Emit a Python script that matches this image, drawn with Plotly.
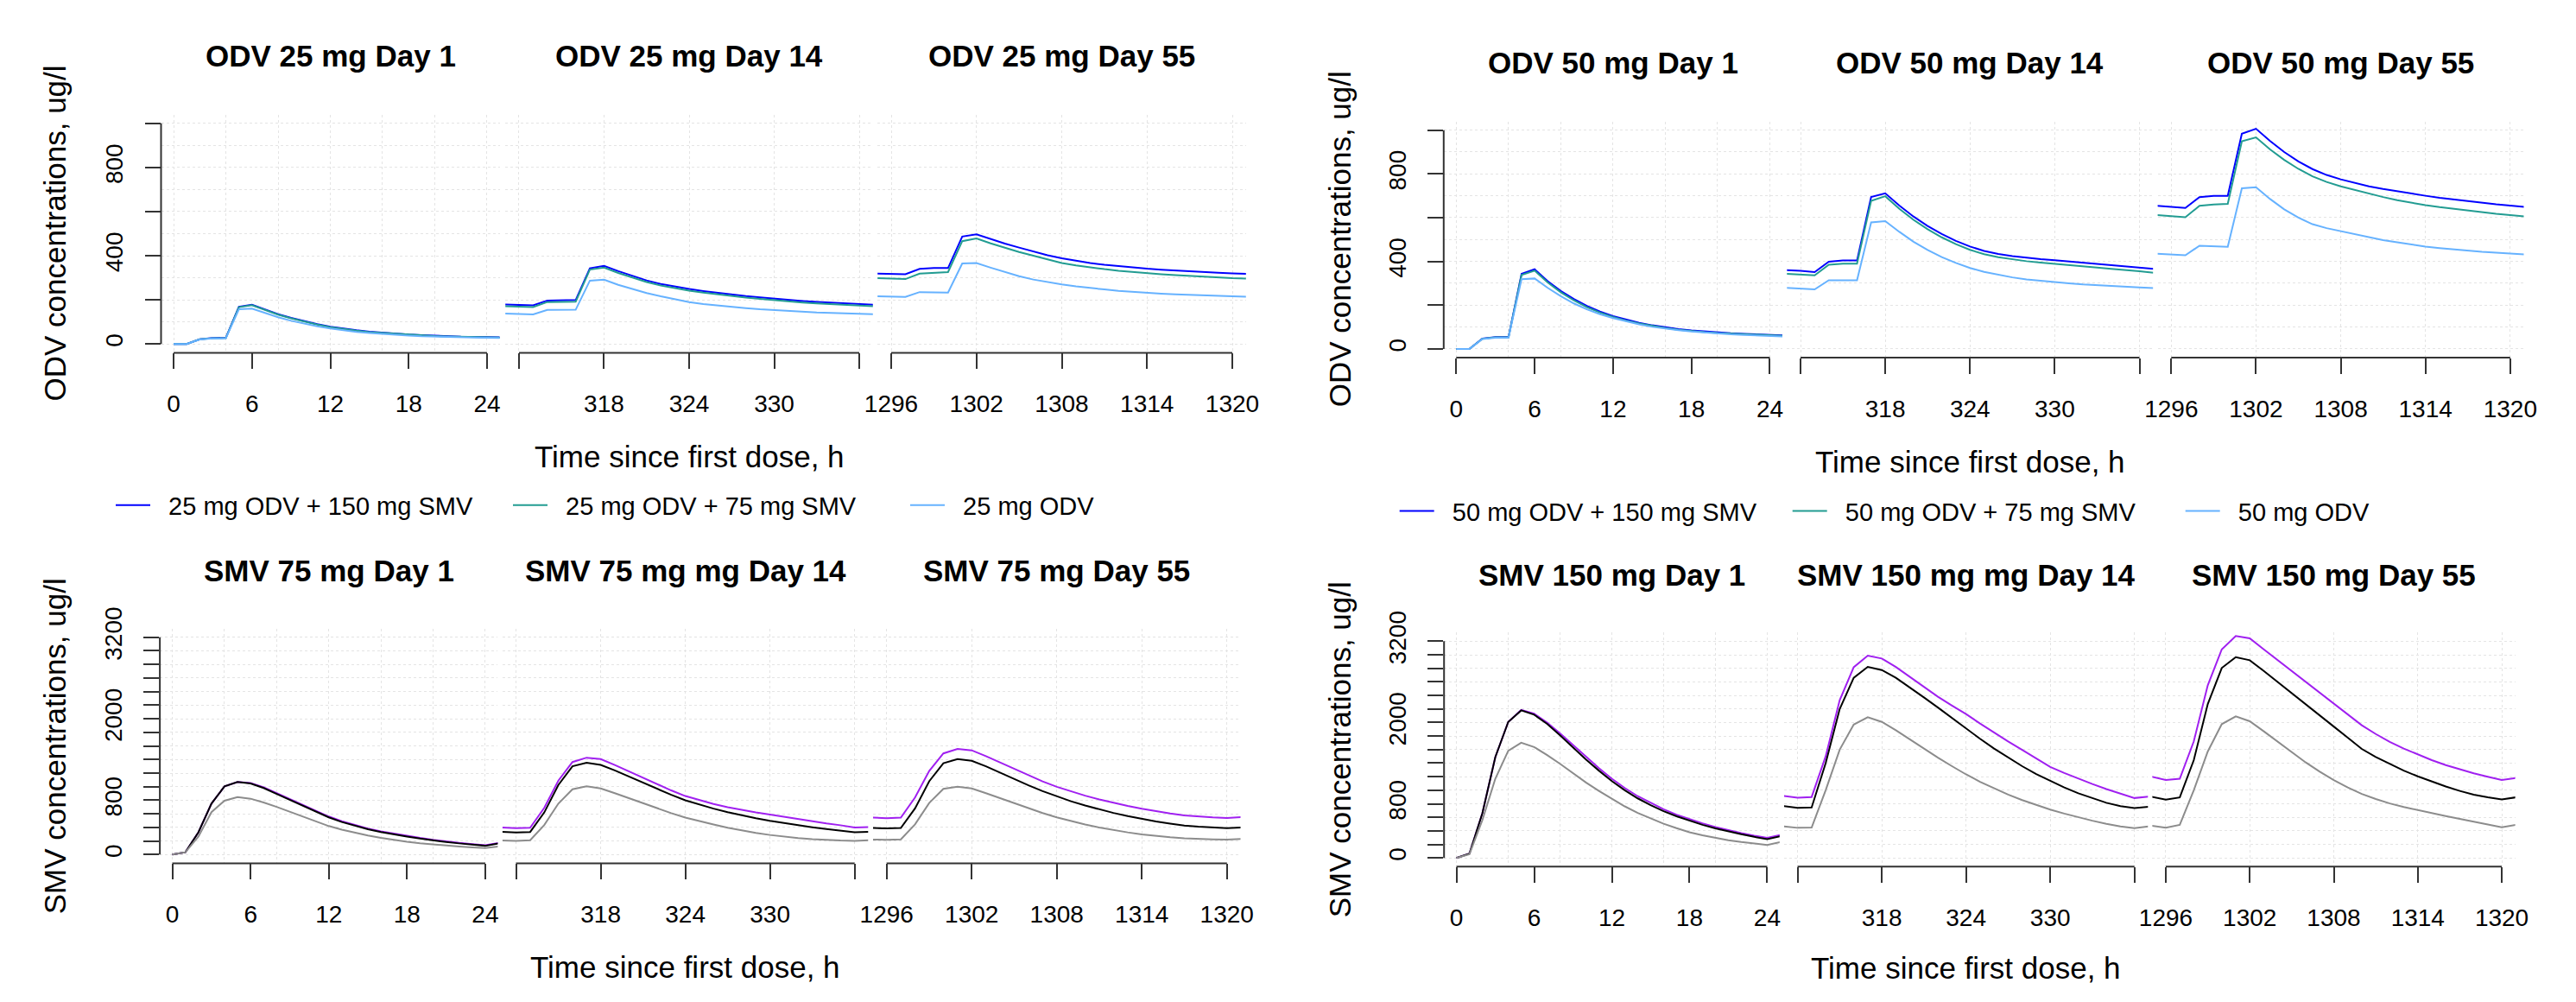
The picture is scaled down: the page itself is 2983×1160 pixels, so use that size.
import plotly.graph_objects as go

W, H = 2983, 1160
FONT = "Liberation Sans, Arial, sans-serif"

# ---------------- data ----------------
t_day1 = list(range(0, 26))
t_day14 = list(range(311, 338))
t_day55 = list(range(1295, 1322))

# ODV 25 mg (top-left)
odv25_smv150_d1 = [0, 0, 21, 27, 28, 169, 178, 155, 135, 118, 103, 90, 78, 69, 62, 56, 51, 47, 43, 40, 37, 35, 33, 32, 31, 30]
odv25_smv75_d1 = [0, 0, 21, 26, 27, 167, 176, 153, 133, 116, 101, 88, 76, 67, 60, 54, 50, 46, 42, 39, 36, 34, 32, 31, 30, 29]
odv25_alone_d1 = [0, 0, 20, 25, 26, 157, 160, 140, 121, 105, 92, 80, 70, 62, 55, 50, 45, 41, 38, 35, 33, 31, 30, 29, 28, 27]
odv25_smv150_d14 = [179, 177, 175, 197, 199, 199, 343, 354, 330, 308, 288, 272, 259, 249, 240, 232, 224, 217, 211, 205, 200, 195, 191, 187, 184, 181, 178]
odv25_smv75_d14 = [171, 169, 167, 190, 192, 192, 337, 346, 322, 300, 281, 265, 252, 242, 233, 225, 217, 210, 204, 198, 193, 188, 184, 180, 177, 174, 171]
odv25_alone_d14 = [138, 136, 134, 154, 155, 155, 287, 291, 268, 248, 231, 216, 203, 190, 181, 174, 168, 162, 157, 153, 149, 146, 143, 141, 139, 137, 135]
odv25_smv150_d55 = [319, 317, 316, 340, 344, 344, 487, 497, 475, 455, 437, 419, 402, 388, 377, 367, 359, 352, 346, 341, 337, 333, 329, 326, 323, 320, 318]
odv25_smv75_d55 = [298, 296, 294, 319, 324, 326, 466, 478, 456, 436, 417, 400, 384, 367, 356, 347, 339, 332, 326, 320, 316, 312, 308, 304, 301, 298, 296]
odv25_alone_d55 = [216, 214, 213, 235, 234, 233, 365, 367, 346, 325, 307, 292, 280, 270, 261, 253, 247, 241, 236, 231, 228, 225, 222, 220, 218, 216, 214]

# ODV 50 mg (top-right)
odv50_smv150_d1 = [0, 0, 47, 54, 54, 343, 364, 310, 265, 228, 197, 171, 150, 133, 119, 108, 99, 91, 85, 80, 76, 72, 69, 66, 64, 62]
odv50_smv75_d1 = [0, 0, 46, 53, 53, 338, 358, 304, 259, 222, 191, 166, 146, 129, 116, 105, 96, 88, 82, 77, 73, 70, 67, 64, 62, 60]
odv50_alone_d1 = [0, 0, 45, 51, 52, 319, 322, 279, 241, 208, 181, 159, 141, 125, 112, 101, 93, 86, 80, 75, 71, 67, 64, 61, 59, 57]
odv50_smv150_d14 = [360, 357, 351, 399, 404, 404, 694, 711, 655, 605, 562, 525, 494, 468, 448, 434, 424, 416, 410, 405, 399, 393, 387, 381, 376, 371, 366]
odv50_smv75_d14 = [343, 340, 336, 385, 390, 390, 677, 698, 640, 590, 547, 510, 479, 453, 433, 419, 409, 401, 395, 390, 384, 378, 372, 366, 361, 355, 348]
odv50_alone_d14 = [279, 276, 272, 314, 315, 314, 578, 584, 535, 490, 452, 420, 393, 370, 352, 338, 327, 318, 311, 305, 300, 295, 291, 287, 284, 281, 278]
odv50_smv150_d55 = [654, 650, 644, 694, 700, 700, 984, 1006, 950, 900, 857, 822, 795, 775, 758, 743, 731, 720, 710, 700, 691, 683, 675, 668, 661, 655, 649]
odv50_smv75_d55 = [612, 608, 602, 654, 660, 663, 949, 967, 912, 864, 823, 789, 763, 743, 726, 708, 694, 680, 668, 657, 648, 640, 632, 625, 618, 612, 606]
odv50_alone_d55 = [435, 432, 428, 472, 470, 467, 734, 739, 685, 638, 600, 570, 552, 538, 523, 509, 497, 487, 477, 468, 461, 455, 449, 444, 440, 436, 432]

# SMV 75 mg (bottom-left): purple / black / gray series
smv75_purple_d1 = [0, 34, 329, 751, 1005, 1070, 1055, 990, 905, 817, 730, 640, 560, 492, 433, 383, 342, 307, 276, 245, 217, 193, 172, 155, 138, 170]
smv75_black_d1 = [0, 34, 329, 751, 1005, 1068, 1047, 980, 893, 805, 716, 627, 548, 480, 422, 373, 333, 297, 266, 236, 209, 185, 165, 147, 130, 163]
smv75_gray_d1 = [0, 34, 266, 625, 794, 848, 823, 768, 703, 633, 562, 495, 420, 366, 320, 281, 247, 216, 190, 168, 149, 133, 119, 107, 98, 118]
smv75_purple_d14 = [400, 388, 395, 688, 1089, 1363, 1427, 1406, 1320, 1225, 1130, 1035, 945, 862, 800, 745, 697, 654, 620, 590, 555, 520, 487, 458, 432, 400, 405]
smv75_black_d14 = [335, 326, 333, 620, 1026, 1300, 1351, 1321, 1240, 1148, 1055, 965, 880, 800, 735, 677, 625, 578, 536, 498, 464, 432, 403, 376, 351, 329, 336]
smv75_gray_d14 = [208, 203, 211, 435, 751, 962, 1005, 975, 905, 830, 755, 680, 610, 545, 490, 442, 395, 356, 320, 289, 264, 243, 228, 216, 208, 203, 212]
smv75_purple_d55 = [545, 535, 545, 840, 1230, 1490, 1556, 1535, 1450, 1355, 1260, 1165, 1078, 998, 930, 868, 812, 762, 716, 675, 638, 605, 578, 560, 548, 538, 550]
smv75_black_d55 = [392, 385, 392, 680, 1080, 1345, 1407, 1380, 1300, 1205, 1110, 1020, 935, 855, 785, 722, 665, 613, 566, 524, 488, 456, 428, 410, 398, 390, 400]
smv75_gray_d55 = [222, 218, 225, 445, 760, 968, 1000, 975, 905, 830, 755, 682, 612, 548, 492, 442, 398, 360, 327, 298, 274, 255, 240, 230, 224, 220, 230]

# SMV 150 mg (bottom-right)
smv150_purple_d1 = [0, 64, 660, 1489, 2009, 2185, 2130, 2000, 1840, 1665, 1490, 1325, 1170, 1033, 912, 810, 718, 640, 574, 512, 458, 410, 368, 330, 298, 340]
smv150_black_d1 = [0, 64, 660, 1489, 2009, 2179, 2115, 1980, 1810, 1630, 1455, 1290, 1135, 1000, 880, 780, 690, 615, 550, 490, 438, 392, 350, 312, 279, 320]
smv150_gray_d1 = [0, 55, 560, 1170, 1583, 1702, 1638, 1520, 1390, 1250, 1115, 990, 872, 762, 665, 580, 505, 440, 380, 335, 295, 262, 235, 212, 193, 234]
smv150_purple_d14 = [915, 890, 900, 1500, 2330, 2817, 2987, 2945, 2820, 2670, 2520, 2380, 2250, 2125, 1985, 1850, 1720, 1595, 1470, 1345, 1255, 1170, 1092, 1018, 950, 885, 905]
smv150_black_d14 = [766, 740, 745, 1400, 2200, 2660, 2821, 2774, 2660, 2520, 2370, 2220, 2065, 1915, 1760, 1615, 1480, 1355, 1240, 1135, 1040, 955, 880, 815, 765, 736, 755]
smv150_gray_d14 = [468, 445, 450, 1000, 1600, 1970, 2077, 2009, 1885, 1750, 1610, 1480, 1355, 1234, 1125, 1025, 935, 855, 780, 715, 655, 600, 550, 505, 465, 440, 465]
smv150_purple_d55 = [1200, 1150, 1170, 1721, 2550, 3080, 3277, 3243, 3080, 2920, 2760, 2600, 2440, 2280, 2115, 1960, 1830, 1715, 1615, 1525, 1445, 1372, 1307, 1250, 1198, 1150, 1180]
smv150_black_d55 = [902, 860, 894, 1444, 2273, 2805, 2965, 2919, 2762, 2600, 2435, 2270, 2105, 1940, 1775, 1610, 1490, 1385, 1290, 1205, 1125, 1055, 990, 935, 895, 864, 895]
smv150_gray_d55 = [477, 447, 489, 1000, 1572, 1976, 2091, 2018, 1870, 1715, 1560, 1410, 1275, 1150, 1040, 945, 870, 805, 752, 705, 660, 618, 578, 535, 492, 452, 489]

# axis ticks / labels
x_ticks_d1 = [0, 6, 12, 18, 24]
x_labels_d1 = ["0", "6", "12", "18", "24"]
x_ticks_d14 = [312, 318, 324, 330, 336]
x_labels_d14 = ["", "318", "324", "330", ""]
x_ticks_d55 = [1296, 1302, 1308, 1314, 1320]
x_labels_d55 = ["1296", "1302", "1308", "1314", "1320"]
y_ticks_odv = [0, 200, 400, 600, 800, 1000]
y_labels_odv = ["0", "", "400", "", "800", ""]
y_ticks_smv = list(range(0, 3400, 200))
y_labels_smv = ["0", "", "", "", "800", "", "", "", "", "", "2000", "", "", "", "", "", "3200"]

legend_left = ["25 mg ODV + 150 mg SMV", "25 mg ODV + 75 mg SMV", "25 mg ODV"]
legend_right = ["50 mg ODV + 150 mg SMV", "50 mg ODV + 75 mg SMV", "50 mg ODV"]

# ---------------- styling / geometry ----------------
C_BLUE, C_TEAL, C_LIGHT = "#0000FF", "#229C92", "#66B2FF"
C_PURPLE, C_BLACK, C_GRAY = "#A020F0", "#000000", "#8C8C8C"
AXC = "#333333"
GRIDC = "#E4E4E4"
NBSP = "\u00a0\u00a0"

X_TL = [(186.5, 578.5), (585.2, 1010.8), (1016.2, 1442.8)]
X_TR = [(1671.8, 2064.0), (2069.3, 2493.2), (2498.6, 2922.5)]
X_BL = [(185.1, 576.4), (581.9, 1005.3), (1011.0, 1436.5)]
X_BR = [(1672.2, 2060.8), (2066.0, 2487.3), (2492.4, 2912.6)]
Y_TL, Y_TR, Y_BL, Y_BR = (132.6, 408.4), (140.5, 414.1), (727.7, 999.4), (732.3, 1003.3)

XRANGES = [(-0.96, 24.96), (311.04, 336.96), (1295.04, 1320.96)]
XTICKS = [(x_ticks_d1, x_labels_d1), (x_ticks_d14, x_labels_d14), (x_ticks_d55, x_labels_d55)]
XGRID = [list(range(0, 25, 4)), x_ticks_d14, x_ticks_d55]
TIMES = [t_day1, t_day14, t_day55]


def dom_x(a):
    return [a[0] / W, a[1] / W]


def dom_y(a):
    return [1 - a[1] / H, 1 - a[0] / H]


blocks = [
    dict(xs=X_TL, yd=Y_TL, titles=["ODV 25 mg Day 1", "ODV 25 mg Day 14", "ODV 25 mg Day 55"], kind="odv",
         data=[[odv25_smv150_d1, odv25_smv75_d1, odv25_alone_d1],
               [odv25_smv150_d14, odv25_smv75_d14, odv25_alone_d14],
               [odv25_smv150_d55, odv25_smv75_d55, odv25_alone_d55]],
         names=legend_left, colors=[C_BLUE, C_TEAL, C_LIGHT], legend="legend",
         ylab="ODV concentrations, ug/l", title_y=64.5, xlab_y=528.6, ylab_x=63.0),
    dict(xs=X_TR, yd=Y_TR, titles=["ODV 50 mg Day 1", "ODV 50 mg Day 14", "ODV 50 mg Day 55"], kind="odv",
         data=[[odv50_smv150_d1, odv50_smv75_d1, odv50_alone_d1],
               [odv50_smv150_d14, odv50_smv75_d14, odv50_alone_d14],
               [odv50_smv150_d55, odv50_smv75_d55, odv50_alone_d55]],
         names=legend_right, colors=[C_BLUE, C_TEAL, C_LIGHT], legend="legend2",
         ylab="ODV concentrations, ug/l", title_y=72.0, xlab_y=534.8, ylab_x=1551.0),
    dict(xs=X_BL, yd=Y_BL, titles=["SMV 75 mg Day 1", "SMV 75 mg mg Day 14", "SMV 75 mg Day 55"], kind="smv",
         data=[[smv75_purple_d1, smv75_black_d1, smv75_gray_d1],
               [smv75_purple_d14, smv75_black_d14, smv75_gray_d14],
               [smv75_purple_d55, smv75_black_d55, smv75_gray_d55]],
         names=["SMV 75 mg (purple)", "SMV 75 mg (black)", "SMV 75 mg (gray)"],
         colors=[C_PURPLE, C_BLACK, C_GRAY], legend=None,
         ylab="SMV concentrations, ug/l", title_y=660.8, xlab_y=1119.3, ylab_x=63.8),
    dict(xs=X_BR, yd=Y_BR, titles=["SMV 150 mg Day 1", "SMV 150 mg mg Day 14", "SMV 150 mg Day 55"], kind="smv",
         data=[[smv150_purple_d1, smv150_black_d1, smv150_gray_d1],
               [smv150_purple_d14, smv150_black_d14, smv150_gray_d14],
               [smv150_purple_d55, smv150_black_d55, smv150_gray_d55]],
         names=["SMV 150 mg (purple)", "SMV 150 mg (black)", "SMV 150 mg (gray)"],
         colors=[C_PURPLE, C_BLACK, C_GRAY], legend=None,
         ylab="SMV concentrations, ug/l", title_y=665.7, xlab_y=1120.9, ylab_x=1551.5),
]

fig = go.Figure()
layout = {}
shapes = []
annotations = []
k = 0
for b in blocks:
    if b["kind"] == "odv":
        yr, yt, yl, yg = (-40, 1040), y_ticks_odv, y_labels_odv, list(range(0, 1001, 100))
        ytop = 1000
    else:
        yr, yt, yl, yg = (-128, 3328), y_ticks_smv, y_labels_smv, y_ticks_smv
        ytop = 3200
    for c in range(3):
        k += 1
        xa = "x" if k == 1 else f"x{k}"
        ya = "y" if k == 1 else f"y{k}"
        xkey = "xaxis" if k == 1 else f"xaxis{k}"
        ykey = "yaxis" if k == 1 else f"yaxis{k}"
        tv, tt = XTICKS[c]
        layout[xkey] = dict(
            domain=dom_x(b["xs"][c]), range=list(XRANGES[c]), anchor=ya,
            tickmode="array", tickvals=tv, ticktext=tt, ticks="outside", ticklen=18,
            tickwidth=2, tickcolor=AXC, showline=False, zeroline=False, showgrid=False,
            tickfont=dict(family=FONT, size=28, color="black"), ticklabelstandoff=16,
            minor=dict(tickvals=XGRID[c], showgrid=True, gridcolor=GRIDC, griddash="dot", gridwidth=1, ticks=""),
            fixedrange=True,
        )
        ydict = dict(
            domain=dom_y(b["yd"]), range=list(yr), anchor=xa,
            tickmode="array", tickvals=yt, showline=False, zeroline=False, showgrid=False,
            minor=dict(tickvals=yg, showgrid=True, gridcolor=GRIDC, griddash="dot", gridwidth=1, ticks=""),
            fixedrange=True,
        )
        if c == 0:
            ydict.update(ticktext=yl, ticks="outside", ticklen=18, tickwidth=2, tickcolor=AXC,
                         tickangle=-90, tickfont=dict(family=FONT, size=28, color="black"),
                         ticklabelstandoff=14)
        else:
            ydict.update(ticks="", showticklabels=False)
        layout[ykey] = ydict

        # R-style axis lines spanning only the tick range
        shapes.append(dict(type="line", xref=xa, yref=f"{ya} domain", x0=tv[0], x1=tv[-1], y0=0, y1=0,
                           line=dict(color=AXC, width=2)))
        if c == 0:
            shapes.append(dict(type="line", xref=f"{xa} domain", yref=ya, x0=0, x1=0, y0=0, y1=ytop,
                               line=dict(color=AXC, width=2)))

        for s in range(3):
            fig.add_trace(go.Scatter(
                x=TIMES[c], y=b["data"][c][s], xaxis=xa, yaxis=ya, mode="lines",
                line=dict(color=b["colors"][s], width=2),
                name=NBSP + b["names"][s] if b["legend"] else b["names"][s],
                showlegend=(b["legend"] is not None and c == 0),
                legend=b["legend"] if b["legend"] else "legend",
                hoverinfo="skip",
            ))

        xc = (b["xs"][c][0] + b["xs"][c][1]) / 2
        annotations.append(dict(text=f"<b>{b['titles'][c]}</b>", xref="paper", yref="paper",
                                x=xc / W, y=1 - b["title_y"] / H, xanchor="center", yanchor="middle",
                                showarrow=False, font=dict(family=FONT, size=35, color="black")))
    xc = (b["xs"][1][0] + b["xs"][1][1]) / 2
    annotations.append(dict(text="Time since first dose, h", xref="paper", yref="paper",
                            x=xc / W, y=1 - b["xlab_y"] / H, xanchor="center", yanchor="middle",
                            showarrow=False, font=dict(family=FONT, size=35, color="black")))
    yc = (b["yd"][0] + b["yd"][1]) / 2
    annotations.append(dict(text=b["ylab"], xref="paper", yref="paper", textangle=-90,
                            x=b["ylab_x"] / W, y=1 - yc / H, xanchor="center", yanchor="middle",
                            showarrow=False, font=dict(family=FONT, size=35, color="black")))

legend_common = dict(orientation="h", xanchor="left", yanchor="middle", bgcolor="rgba(0,0,0,0)",
                     borderwidth=0, font=dict(family=FONT, size=29, color="black"),
                     itemwidth=40, entrywidthmode="pixels", traceorder="normal",
                     itemclick=False, itemdoubleclick=False)

fig.update_layout(
    width=W, height=H, margin=dict(l=0, r=0, t=0, b=0, pad=0, autoexpand=False),
    paper_bgcolor="white", plot_bgcolor="white",
    font=dict(family=FONT, color="black"),
    shapes=shapes, annotations=annotations,
    legend=dict(x=129 / W, y=1 - 585 / H, entrywidth=405, **legend_common),
    legend2=dict(x=1615.7 / W, y=1 - 591.7 / H, entrywidth=400, **legend_common),
    **layout,
)

fig.write_html("out.html", config={"displayModeBar": False},
               post_script="document.body.style.margin='0';document.body.style.overflow='hidden';")
